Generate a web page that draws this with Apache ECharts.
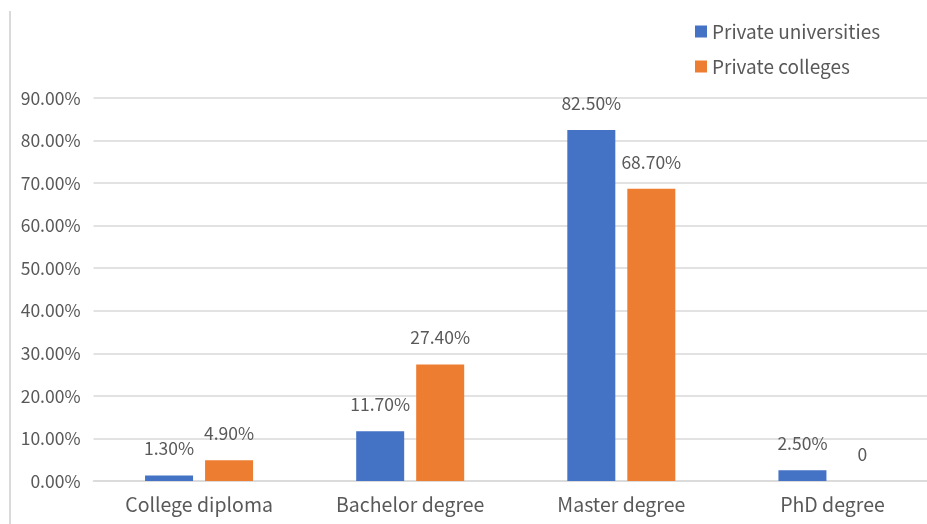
<!DOCTYPE html>
<html><head><meta charset="utf-8">
<script src="https://cdn.jsdelivr.net/npm/echarts@6/dist/echarts.min.js"></script>
<style>html,body{margin:0;padding:0;background:#fff;overflow:hidden}#c{width:938px;height:524px}</style>
</head><body><div id="c"></div>
<script>
const categories = ['College diploma', 'Bachelor degree', 'Master degree', 'PhD degree'];
const privateUniversities = [1.3, 11.7, 82.5, 2.5];
const privateColleges = [4.9, 27.4, 68.7, 0];
const seriesNames = ['Private universities', 'Private colleges'];
const FONT = '"Noto Sans CJK SC", "Noto Sans", sans-serif';
const TXT = '#595959';
const fmt = v => v === 0 ? '0' : v.toFixed(2) + '%';
const chart = echarts.init(document.getElementById('c'));
const lbl = {show: true, position: 'top', distance: 18, color: TXT, fontSize: 17.5, fontFamily: FONT,
  formatter: p => fmt(p.value)};
chart.setOption({
  animation: false,
  textStyle: {fontFamily: FONT},
  graphic: [{type: 'line', shape: {x1: 10, y1: 11, x2: 10, y2: 524}, style: {stroke: '#d9d9d9', lineWidth: 2}}],
  legend: {orient: 'vertical', left: 690, top: 17, itemWidth: 12, itemHeight: 12, itemGap: 16,
    icon: 'rect', textStyle: {color: TXT, fontSize: 19, fontFamily: FONT}},
  grid: {left: 93.5, top: 98, right: 0, bottom: 43, containLabel: false},
  xAxis: {type: 'category', data: categories,
    axisLine: {lineStyle: {color: '#d9d9d9', width: 1.5}}, axisTick: {show: false},
    axisLabel: {color: TXT, fontSize: 19.5, fontFamily: FONT, margin: 14}},
  yAxis: {type: 'value', min: 0, max: 90, interval: 10,
    axisLine: {show: false}, axisTick: {show: false},
    splitLine: {lineStyle: {color: '#d9d9d9', width: 1.5}},
    axisLabel: {color: TXT, fontSize: 17.5, fontFamily: FONT, margin: 13, formatter: v => v.toFixed(2) + '%'}},
  series: [
    {name: seriesNames[0], type: 'bar', data: privateUniversities, barWidth: 48, barGap: '25%',
      itemStyle: {color: '#4472C4'}, label: lbl},
    {name: seriesNames[1], type: 'bar', data: privateColleges, barWidth: 48, barGap: '25%',
      itemStyle: {color: '#ED7D31'}, label: lbl}
  ]
});
</script></body></html>
